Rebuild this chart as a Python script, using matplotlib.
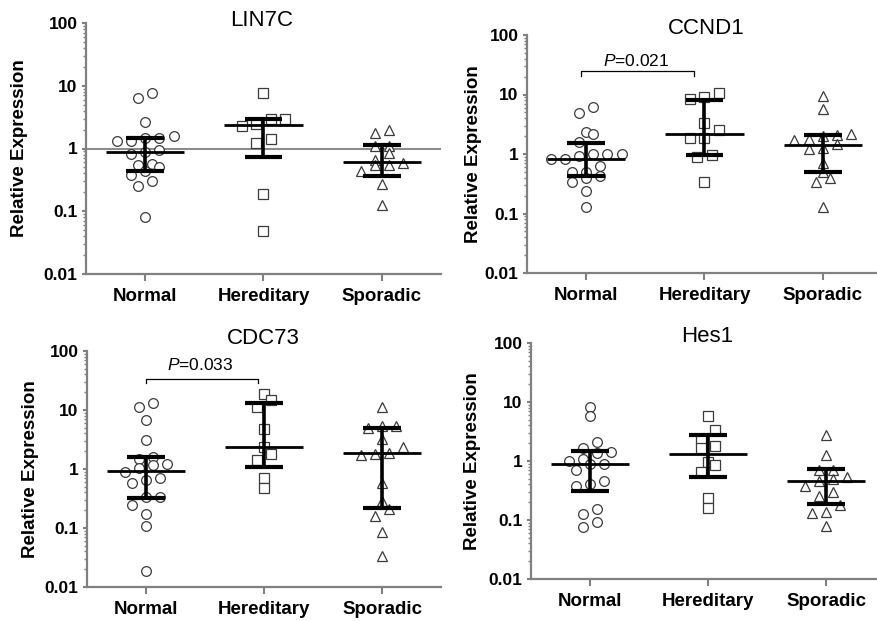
import numpy as np
import matplotlib
matplotlib.use("Agg")
import matplotlib.pyplot as plt
from matplotlib.ticker import LogLocator, FixedLocator, NullFormatter

plt.rcParams['font.family'] = ['Liberation Sans', 'DejaVu Sans']
plt.rcParams['mathtext.fontset'] = 'custom'
plt.rcParams['mathtext.it'] = 'Liberation Sans:italic'
plt.rcParams['mathtext.rm'] = 'Liberation Sans'

groups = ["Normal", "Hereditary", "Sporadic"]

# values (relative expression)
lin7c_normal = [7.6, 6.4, 2.6, 1.61, 1.48, 1.45, 1.32, 1.31, 0.95, 0.87, 0.83, 0.57, 0.55, 0.5, 0.43, 0.38, 0.30, 0.25, 0.082]
lin7c_hered = [7.6, 2.9, 2.9, 2.5, 2.3, 1.44, 1.23, 0.19, 0.049]
lin7c_spor = [2.0, 1.76, 1.1, 1.09, 0.84, 0.65, 0.58, 0.54, 0.54, 0.43, 0.27, 0.128]
lin7c_med = [0.87, 2.4, 0.6]
lin7c_lo = [0.44, 0.73, 0.37]
lin7c_hi = [1.48, 2.9, 1.13]

ccnd1_normal = [6.1, 4.9, 2.3, 2.2, 1.6, 1.0, 1.0, 1.0, 0.94, 0.82, 0.82, 0.63, 0.5, 0.5, 0.43, 0.4, 0.34, 0.24, 0.13]
ccnd1_hered = [10.7, 9.0, 8.3, 3.3, 2.5, 1.87, 1.87, 0.96, 0.9, 0.34]
ccnd1_spor = [9.4, 5.6, 2.2, 2.07, 1.97, 1.76, 1.75, 1.48, 1.28, 1.2, 0.71, 0.5, 0.4, 0.34, 0.13]
ccnd1_med = [0.82, 2.16, 1.41]
ccnd1_lo = [0.43, 0.96, 0.49]
ccnd1_hi = [1.54, 8.05, 2.07]

cdc73_normal = [13.3, 11.2, 6.9, 3.06, 1.58, 1.46, 1.23, 1.15, 1.05, 0.89, 0.7, 0.66, 0.59, 0.33, 0.33, 0.25, 0.175, 0.107, 0.019]
cdc73_hered = [18.9, 15, 11.2, 4.7, 2.36, 1.77, 1.44, 0.71, 0.48]
cdc73_spor = [11.2, 5.4, 5.4, 4.9, 3.2, 2.4, 1.9, 1.82, 1.7, 0.59, 0.29, 0.21, 0.158, 0.086, 0.034]
cdc73_med = [0.91, 2.36, 1.9]
cdc73_lo = [0.32, 1.08, 0.22]
cdc73_hi = [1.6, 13.1, 5.0]

hes1_normal = [8.1, 5.7, 2.07, 1.68, 1.4, 1.35, 1.1, 1.01, 0.89, 0.89, 0.70, 0.45, 0.41, 0.37, 0.153, 0.126, 0.093, 0.075]
hes1_hered = [5.7, 3.36, 2.4, 1.8, 1.65, 0.97, 0.86, 0.65, 0.24, 0.157]
hes1_spor = [2.8, 1.26, 0.7, 0.7, 0.53, 0.5, 0.46, 0.38, 0.30, 0.26, 0.18, 0.138, 0.13, 0.078]
hes1_med = [0.89, 1.3, 0.45]
hes1_lo = [0.31, 0.53, 0.186]
hes1_hi = [1.5, 2.77, 0.72]

# p-value annotations
pvals = {"CCND1": "0.021", "CDC73": "0.033"}

W, H = 878, 621
fig = plt.figure(figsize=(W / 100, H / 100), dpi=100)

# axes boxes in pixels: left, top, right, bottom
boxes = [(86, 23, 441, 274), (527, 35, 882, 273), (87, 351, 441, 587), (531, 343, 885, 579)]
title_pos = [(262, 21), (706, 28), (263, 338), (707, 337)]
ylab_x = [28, 482, 39, 481]  # right edge of the rotated label

panels = [
    ("LIN7C", [lin7c_normal, lin7c_hered, lin7c_spor], lin7c_med, lin7c_lo, lin7c_hi),
    ("CCND1", [ccnd1_normal, ccnd1_hered, ccnd1_spor], ccnd1_med, ccnd1_lo, ccnd1_hi),
    ("CDC73", [cdc73_normal, cdc73_hered, cdc73_spor], cdc73_med, cdc73_lo, cdc73_hi),
    ("Hes1", [hes1_normal, hes1_hered, hes1_spor], hes1_med, hes1_lo, hes1_hi),
]
markers = ["o", "s", "^"]
msizes = [7, 6.5, 7.5]
spine_col = "#808080"


def swarm_offsets(vals, tol=0.15, step=0.12):
    # group points into rows by log value, then center each row
    lv = np.log10(vals)
    order = np.argsort(lv)
    offs = np.zeros(len(vals))
    rows = []
    cur = [order[0]]
    for i in order[1:]:
        if lv[i] - lv[cur[0]] < tol:
            cur.append(i)
        else:
            rows.append(cur)
            cur = [i]
    rows.append(cur)
    for r in rows:
        n = len(r)
        for k, i in enumerate(r):
            offs[i] = (k - (n - 1) / 2) * step
    return offs


for idx, (title, data, med, lo, hi) in enumerate(panels):
    l, t, r, b = boxes[idx]
    ax = fig.add_axes([l / W, 1 - b / H, (r - l) / W, (b - t) / H])
    ax.set_yscale("log")
    ax.set_ylim(0.01, 100)
    ax.set_xlim(-0.5, 2.5)

    if title == "LIN7C":
        ax.axhline(1, color="#8c8c8c", lw=1.5, zorder=1)

    for g, vals in enumerate(data):
        vals = np.array(vals)
        xs = g + swarm_offsets(vals)
        ax.plot(xs, vals, linestyle="none", marker=markers[g], ms=msizes[g],
                mfc="white", mec="#3a3a3a", mew=0.9, zorder=2)
        # median with interquartile range
        ax.plot([g, g], [lo[g], hi[g]], color="black", lw=2.6, zorder=3, solid_capstyle="butt")
        ax.plot([g - 0.16, g + 0.16], [lo[g], lo[g]], color="black", lw=3, zorder=3, solid_capstyle="butt")
        ax.plot([g - 0.16, g + 0.16], [hi[g], hi[g]], color="black", lw=3, zorder=3, solid_capstyle="butt")
        ax.plot([g - 0.33, g + 0.33], [med[g], med[g]], color="black", lw=2, zorder=3, solid_capstyle="butt")

    if title in pvals:
        if title == "CCND1":
            x0, x1, yb, yt, ty, tx = -0.04, 0.91, 20.6, 24.8, 36.5, 0.42
        else:
            x0, x1, yb, yt, ty, tx = 0.0, 0.95, 28.5, 34, 57, 0.46
        ax.plot([x0, x0, x1, x1], [yb, yt, yt, yb], color="black", lw=0.9, zorder=3)
        ax.text(tx, ty, r"$\it{P}$=" + pvals[title], ha="center", va="center", fontsize=12.5)

    for s in ["top", "right"]:
        ax.spines[s].set_visible(False)
    for s in ["left", "bottom"]:
        ax.spines[s].set_color(spine_col)
        ax.spines[s].set_linewidth(1.6)

    ax.yaxis.set_major_locator(FixedLocator([0.01, 0.1, 1, 10, 100]))
    ax.set_yticklabels(["0.01", "0.1", "1", "10", "100"], fontweight="bold", fontsize=12.5)
    ax.yaxis.set_minor_locator(LogLocator(base=10, subs=np.arange(2, 10)))
    ax.yaxis.set_minor_formatter(NullFormatter())
    ax.tick_params(axis="y", which="major", length=3, width=1.5, color=spine_col, pad=3)
    ax.tick_params(axis="y", which="minor", length=2, width=1.0, color=spine_col)

    ax.set_xticks([0, 1, 2])
    ax.set_xticklabels(groups, fontweight="bold", fontsize=13.5)
    ax.tick_params(axis="x", length=5, width=1.5, color=spine_col, pad=5)

    ax.set_ylabel("Relative Expression", fontweight="bold", fontsize=13.5)
    ax.yaxis.set_label_coords((ylab_x[idx] - l) / (r - l), 0.5)

    tx_, ty_ = title_pos[idx]
    fig.text(tx_ / W, 1 - ty_ / H, title, ha="center", va="center", fontsize=16)

fig.savefig("out.png", dpi=100)
